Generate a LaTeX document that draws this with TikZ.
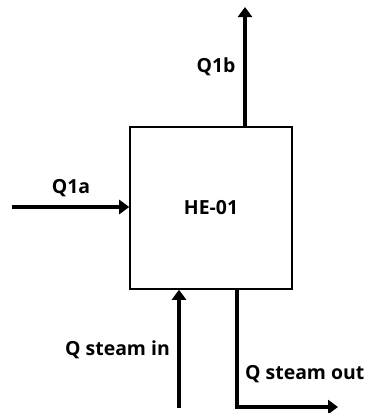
\documentclass[tikz,border=0pt]{standalone}
\usepackage{fontspec}
\setmainfont{Open Sans}
\usetikzlibrary{arrows.meta,positioning,calc}

\begin{document}
\begin{tikzpicture}[x=1bp,y=-1bp,
    flow/.style={line width=3.4bp,-{Triangle[length=10bp,width=14bp]}},
    lbl/.style={font=\bfseries\fontsize{19.5}{22}\selectfont},
    unit/.style={draw,line width=1.5bp,minimum width=162bp,minimum height=162bp,inner sep=0pt}]
    \useasboundingbox (0,0) rectangle (368,413);

    % Heat exchanger
    \node[unit,lbl] (he) at (211,208) {HE-01};

    % Free ends of the streams
    \coordinate (q1ain) at (12,207);
    \coordinate (q1bout) at (245,7);
    \coordinate (steamin) at (179,408);
    \coordinate (bend) at (237,407);
    \coordinate (steamout) at (338,407);

    % Streams
    \draw[flow] (q1ain) -- (q1ain -| he.west);
    \draw[flow] (q1bout |- he.north) -- (q1bout);
    \draw[flow] (steamin) -- (steamin |- he.south);
    \draw[flow] (bend |- he.south) -- (bend) -- (steamout);

    % Labels
    \node[lbl] (lq1a) at (71,188) {Q1a};
    \node[lbl] (lq1b) at (216,67) {Q1b};
    \node[lbl,anchor=east,inner sep=0pt] (lsteamin) at (65,350) [anchor=west] {Q steam in};
    \node[lbl,anchor=west,inner sep=0pt] (lsteamout) at (245,374) {Q steam out};
\end{tikzpicture}
\end{document}
